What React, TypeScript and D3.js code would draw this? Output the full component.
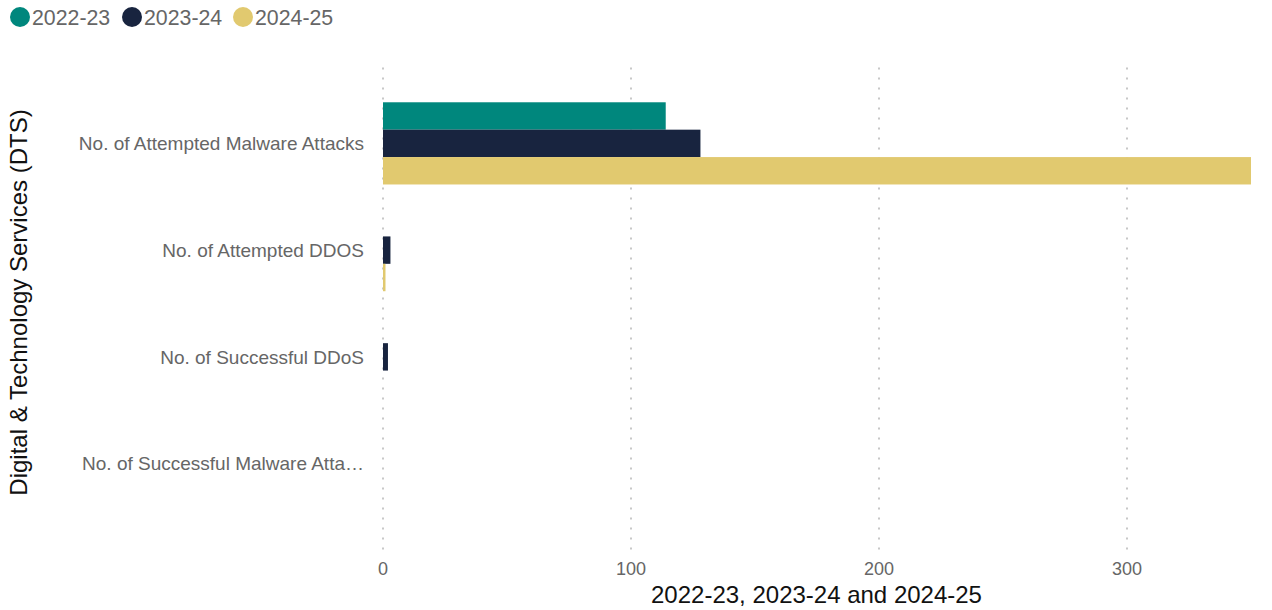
import React from "react";
import * as d3 from "d3";

const categories = [
  "No. of Attempted Malware Attacks",
  "No. of Attempted DDOS",
  "No. of Successful DDoS",
  "No. of Successful Malware Attacks",
];
const categoryLabels = [
  "No. of Attempted Malware Attacks",
  "No. of Attempted DDOS",
  "No. of Successful DDoS",
  "No. of Successful Malware Atta…",
];
const seriesNames = ["2022-23", "2023-24", "2024-25"];
const seriesColors = ["#00877d", "#18243f", "#e1c96f"];
const values2022 = [114, 0, 0, 0];
const values2023 = [128, 3, 2, 0];
const values2024 = [350, 1, 0, 0];
const xTicks = [0, 100, 200, 300];

const W = 1272;
const H = 610;
const FONT = "'Liberation Sans', Arial, sans-serif";

export default function App() {
  const seriesValues = [values2022, values2023, values2024];
  const x = d3.scaleLinear().domain([0, 350]).range([383, 1251]);
  const y = d3
    .scaleBand<string>()
    .domain(categories)
    .range([90, 517])
    .paddingInner(0.23)
    .paddingOuter(0.115);
  const inner = d3
    .scaleBand<string>()
    .domain(seriesNames)
    .range([0, y.bandwidth()]);

  const legendX = [20, 132, 243];

  return (
    <svg
      width={W}
      height={H}
      style={{ position: "absolute", left: 0, top: 0, background: "#fff" }}
      fontFamily={FONT}
    >
      {/* legend */}
      {seriesNames.map((s, i) => (
        <g key={s}>
          <circle cx={legendX[i]} cy={17} r={10} fill={seriesColors[i]} />
          <text x={legendX[i] + 12} y={24.5} fontSize={21.3} fill="#666">
            {s}
          </text>
        </g>
      ))}

      {/* gridlines */}
      {xTicks.map((t) => (
        <line
          key={t}
          x1={x(t)}
          x2={x(t)}
          y1={67.5}
          y2={550}
          stroke="#c8c8c8"
          strokeWidth={2}
          strokeDasharray="2,8"
        />
      ))}

      {/* bars */}
      {categories.map((c) =>
        seriesNames.map((s, si) => {
          const v = seriesValues[si][categories.indexOf(c)];
          if (!v) return null;
          return (
            <rect
              key={c + s}
              x={x(0)}
              y={(y(c) ?? 0) + (inner(s) ?? 0)}
              width={x(v) - x(0)}
              height={inner.bandwidth()}
              fill={seriesColors[si]}
            />
          );
        })
      )}

      {/* category labels */}
      {categories.map((c, i) => (
        <text
          key={c}
          x={364}
          y={(y(c) ?? 0) + y.bandwidth() / 2}
          dy="0.35em"
          textAnchor="end"
          fontSize={19}
          fill="#666"
        >
          {categoryLabels[i]}
        </text>
      ))}

      {/* x tick labels */}
      {xTicks.map((t) => (
        <text
          key={t}
          x={x(t)}
          y={574.5}
          textAnchor="middle"
          fontSize={18}
          fill="#666"
        >
          {t}
        </text>
      ))}

      {/* axis titles */}
      <text x={816.5} y={603} textAnchor="middle" fontSize={24} fill="#111">
        2022-23, 2023-24 and 2024-25
      </text>
      <text
        transform="translate(27,302.5) rotate(-90)"
        textAnchor="middle"
        fontSize={24}
        fill="#111"
      >
        Digital &amp; Technology Services (DTS)
      </text>
    </svg>
  );
}
